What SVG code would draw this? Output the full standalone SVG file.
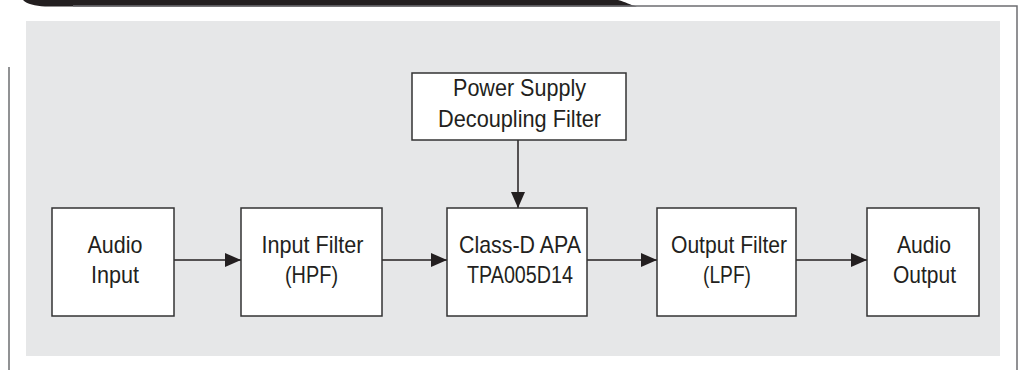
<svg xmlns="http://www.w3.org/2000/svg" width="1018" height="370" viewBox="0 0 1018 370">
<style>
.box{fill:#fff;stroke:#333;stroke-width:1.5}
.t{font-family:"Liberation Sans",Arial,sans-serif;font-size:24px;fill:#231f20;text-anchor:middle}
.c{stroke:#231f20;stroke-width:1.5;fill:none}
.rule{stroke:#6d6e71;stroke-width:1.5;fill:none}
</style>
<defs>
<marker id="ah" viewBox="0 0 16 14" refX="16" refY="7" markerWidth="16" markerHeight="14" markerUnits="userSpaceOnUse" orient="auto">
<path d="M0,0 L16,7 L0,14 Z" fill="#231f20"/>
</marker>
</defs>
<rect x="0" y="0" width="1018" height="370" fill="#fff"/>
<path d="M23,0 L618,0 C626,2 630,5 637,6.5 L45,6.5 C35,6 27,4 23,0 Z" fill="#231f20"/>
<path class="rule" d="M73,6 L1017,6 L1017,370"/>
<line class="rule" x1="9" y1="67" x2="9" y2="370" stroke-width="2"/>
<rect x="26" y="21" width="974" height="335" fill="#e6e7e8"/>
<g id="connectors">
<line class="c" x1="174" y1="260" x2="241" y2="260" marker-end="url(#ah)"/>
<line class="c" x1="382" y1="260" x2="447" y2="260" marker-end="url(#ah)"/>
<line class="c" x1="587" y1="260" x2="657" y2="260" marker-end="url(#ah)"/>
<line class="c" x1="796" y1="260" x2="867" y2="260" marker-end="url(#ah)"/>
<line class="c" x1="518" y1="140" x2="518" y2="208" marker-end="url(#ah)"/>
</g>
<g id="power">
<rect class="box" x="412" y="73" width="214" height="67"/>
<text class="t" x="519.5" y="96" textLength="133" lengthAdjust="spacingAndGlyphs">Power Supply</text>
<text class="t" x="519.5" y="127" textLength="163" lengthAdjust="spacingAndGlyphs">Decoupling Filter</text>
</g>
<g id="audio-input">
<rect class="box" x="52" y="208" width="122" height="108"/>
<text class="t" x="115" y="253" textLength="55" lengthAdjust="spacingAndGlyphs">Audio</text>
<text class="t" x="115" y="283" textLength="48" lengthAdjust="spacingAndGlyphs">Input</text>
</g>
<g id="input-filter">
<rect class="box" x="241" y="208" width="141" height="108"/>
<text class="t" x="312.5" y="253" textLength="102" lengthAdjust="spacingAndGlyphs">Input Filter</text>
<text class="t" x="311.5" y="283" textLength="53" lengthAdjust="spacingAndGlyphs">(HPF)</text>
</g>
<g id="classd">
<rect class="box" x="447" y="208" width="140" height="108"/>
<text class="t" x="520" y="253" textLength="122" lengthAdjust="spacingAndGlyphs">Class-D APA</text>
<text class="t" x="520" y="283" textLength="106" lengthAdjust="spacingAndGlyphs">TPA005D14</text>
</g>
<g id="output-filter">
<rect class="box" x="657" y="208" width="139" height="108"/>
<text class="t" x="729" y="253" textLength="116" lengthAdjust="spacingAndGlyphs">Output Filter</text>
<text class="t" x="727" y="283" textLength="48" lengthAdjust="spacingAndGlyphs">(LPF)</text>
</g>
<g id="audio-output">
<rect class="box" x="867" y="208" width="112" height="108"/>
<text class="t" x="924" y="253" textLength="54" lengthAdjust="spacingAndGlyphs">Audio</text>
<text class="t" x="924.5" y="283" textLength="63" lengthAdjust="spacingAndGlyphs">Output</text>
</g>
</svg>
